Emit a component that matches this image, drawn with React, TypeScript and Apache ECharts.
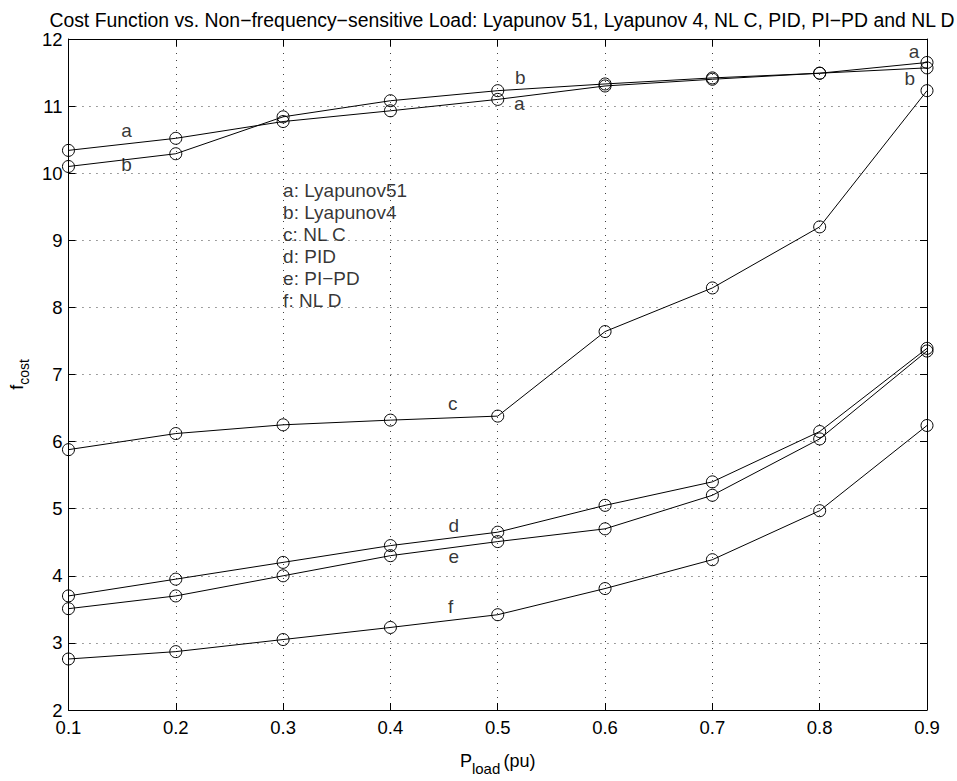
import React, { useEffect, useRef } from "react";
import * as echarts from "echarts";

// Non-frequency-sensitive load (pu)
const loads = [0.1, 0.2, 0.3, 0.4, 0.5, 0.6, 0.7, 0.8, 0.9];

// Cost function values for each controller
const lyapunov51 = [10.34, 10.52, 10.77, 10.93, 11.1, 11.3, 11.4, 11.49, 11.65];
const lyapunov4 = [10.1, 10.29, 10.84, 11.08, 11.23, 11.33, 11.42, 11.49, 11.57];
const nlC = [5.88, 6.12, 6.25, 6.32, 6.38, 7.64, 8.29, 9.2, 11.23];
const pid = [3.7, 3.95, 4.2, 4.45, 4.65, 5.05, 5.4, 6.15, 7.39];
const piPd = [3.51, 3.7, 4.0, 4.3, 4.51, 4.7, 5.2, 6.04, 7.35];
const nlD = [2.76, 2.87, 3.05, 3.23, 3.42, 3.81, 4.24, 4.97, 6.24];

const seriesList = [lyapunov51, lyapunov4, nlC, pid, piPd, nlD];

// Curve tags placed beside the curves: [x, y, tag]
const curveTags: [number, number, string][] = [
  [0.154, 10.64, "a"],
  [0.154, 10.13, "b"],
  [0.521, 11.42, "b"],
  [0.52, 11.04, "a"],
  [0.888, 11.82, "a"],
  [0.884, 11.41, "b"],
  [0.458, 6.57, "c"],
  [0.459, 4.75, "d"],
  [0.459, 4.29, "e"],
  [0.456, 3.54, "f"],
];

// Key explaining the tags (anchored at its top-left corner)
const keyAnchor: [number, number] = [0.3, 9.9];
const keyLines = [
  "a: Lyapunov51",
  "b: Lyapunov4",
  "c: NL C",
  "d: PID",
  "e: PI\u2212PD",
  "f: NL D",
];

const xTicks = [0.1, 0.2, 0.3, 0.4, 0.5, 0.6, 0.7, 0.8, 0.9];

const FONT = "'Liberation Sans', Arial, Helvetica, sans-serif";

export default function App() {
  const ref = useRef<HTMLDivElement>(null);

  useEffect(() => {
    if (!ref.current) return;
    const chart = echarts.init(ref.current, undefined, { renderer: "svg" });

    const gridLine = {
      show: true,
      lineStyle: { color: "#000", width: 1, type: [1, 6] as any, opacity: 0.75 },
    };
    const axisLine = { show: true, onZero: false, lineStyle: { color: "#000", width: 1 } };
    const tick = { show: true, inside: true, length: 7, lineStyle: { color: "#000", width: 1 } };
    const tickLabel = { color: "#000", fontSize: 18.5, fontFamily: FONT };

    const lineSeries = seriesList.map((vals) => ({
      type: "line",
      data: loads.map((x, i) => [x, vals[i]]),
      symbol: "circle",
      symbolSize: 12,
      showAllSymbol: true,
      lineStyle: { color: "#000", width: 1 },
      itemStyle: { color: "rgba(0,0,0,0)", borderColor: "#000", borderWidth: 1 },
      emphasis: { disabled: true },
      z: 3,
    }));

    chart.setOption({
      animation: false,
      backgroundColor: "#fff",
      title: {
        text: "Cost Function vs. Non\u2212frequency\u2212sensitive Load: Lyapunov 51, Lyapunov 4, NL C, PID, PI\u2212PD and NL D",
        left: 497,
        textAlign: "center",
        top: 5,
        textStyle: { color: "#000", fontSize: 19.4, fontWeight: "normal", fontFamily: FONT },
      },
      grid: { left: 62, right: 30, top: 39, bottom: 58.5, containLabel: false },
      xAxis: [
        {
          type: "value",
          min: 0.1,
          max: 0.9,
          interval: 0.1,
          axisLine,
          axisTick: tick,
          splitLine: gridLine,
          axisLabel: {
            ...tickLabel,
            margin: 8,
            formatter: (v: number) => {
              const t = xTicks.find((k) => Math.abs(k - v) < 1e-6);
              return t !== undefined ? t.toFixed(1) : "";
            },
          },
          name: "{p|P}{s|load} {p|(pu)}",
          nameLocation: "middle",
          nameGap: 35,
          nameTextStyle: {
            rich: {
              p: { fontSize: 18, fontFamily: FONT, color: "#000" },
              s: { fontSize: 15, fontFamily: FONT, color: "#000", padding: [16, 0, 0, 0] },
            },
          },
        },
        {
          type: "value",
          position: "top",
          min: 0.1,
          max: 0.9,
          interval: 0.1,
          axisLine,
          axisTick: tick,
          axisLabel: { show: false },
          splitLine: { show: false },
        },
      ],
      yAxis: [
        {
          type: "value",
          min: 2,
          max: 12,
          interval: 1,
          axisLine,
          axisTick: tick,
          splitLine: gridLine,
          axisLabel: { ...tickLabel, margin: 6 },
          name: "{p|f}{s|cost}",
          nameLocation: "middle",
          nameGap: 36,
          nameRotate: 90,
          nameTextStyle: {
            rich: {
              p: { fontSize: 18, fontFamily: FONT, color: "#000" },
              s: { fontSize: 14, fontFamily: FONT, color: "#000", padding: [14, 0, 0, 0] },
            },
          },
        },
        {
          type: "value",
          position: "right",
          min: 2,
          max: 12,
          interval: 1,
          axisLine,
          axisTick: tick,
          axisLabel: { show: false },
          splitLine: { show: false },
        },
      ],
      series: [
        ...lineSeries,
        {
          type: "scatter",
          data: curveTags.map(([x, y, t]) => ({ value: [x, y], name: t })),
          symbolSize: 0,
          silent: true,
          label: {
            show: true,
            position: "inside",
            formatter: (p: any) => p.name,
            color: "#000",
            fontSize: 19,
            fontFamily: FONT,
          },
          z: 4,
        },
        {
          type: "scatter",
          data: [{ value: keyAnchor, name: keyLines.join("\n") }],
          symbolSize: 0,
          silent: true,
          label: {
            show: true,
            position: [0, 0],
            align: "left",
            verticalAlign: "top",
            formatter: (p: any) => p.name,
            color: "#000",
            fontSize: 19,
            lineHeight: 22,
            fontFamily: FONT,
          },
          z: 4,
        },
      ],
    });

    return () => chart.dispose();
  }, []);

  return (
    <div
      ref={ref}
      style={{ position: "absolute", left: 0, top: 0, width: 957, height: 781 }}
    />
  );
}
